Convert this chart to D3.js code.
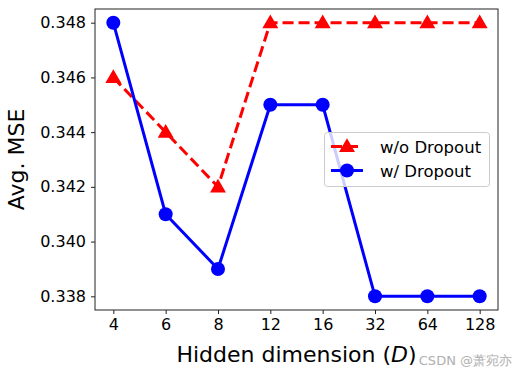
<!DOCTYPE html>
<html><head><meta charset="utf-8">
<script src="https://cdn.jsdelivr.net/npm/d3@7"></script>
<style>body{margin:0;background:#fff}svg{display:block}text{font-family:"DejaVu Sans",sans-serif}</style>
</head><body><svg id="c" width="519" height="379"></svg>
<script>
const categories = ["4","6","8","12","16","32","64","128"];
const woDropout = [0.346,0.344,0.342,0.348,0.348,0.348,0.348,0.348];
const wDropout = [0.348,0.341,0.339,0.345,0.345,0.338,0.338,0.338];
const yTicks = [0.338,0.340,0.342,0.344,0.346,0.348];
const seriesNames = ["w/o Dropout","w/ Dropout"];

const svg = d3.select("#c");
const L=95,R=498,T=9,B=310;
const x = d3.scalePoint().domain(categories).range([L,R]).padding(0.35);
const y = d3.scaleLinear().domain([0.3375,0.3485]).range([B,T]);

const xa = svg.append("g").attr("transform",`translate(0,${B})`)
  .call(d3.axisBottom(x).tickSize(4).tickPadding(5));
const ya = svg.append("g").attr("transform",`translate(${L},0)`)
  .call(d3.axisLeft(y).tickValues(yTicks).tickFormat(d3.format(".3f")).tickSize(4).tickPadding(5));
[xa,ya].forEach(a=>{a.select(".domain").remove();a.selectAll("text").attr("font-size",16).attr("fill","#000").attr("font-family","DejaVu Sans");a.selectAll("line").attr("stroke","#222");});

svg.append("rect").attr("x",L).attr("y",T).attr("width",R-L).attr("height",B-T)
  .attr("fill","none").attr("stroke","#222").attr("stroke-width",1);

const line = d3.line().x((d,i)=>x(categories[i])).y(d=>y(d));
const tri = d3.symbol().type(d3.symbolTriangle).size(110);
svg.append("path").datum(woDropout).attr("d",line).attr("fill","none")
  .attr("stroke","#ff0000").attr("stroke-width",3).attr("stroke-dasharray","11,5");
svg.selectAll(".tri").data(woDropout).join("path").attr("class","tri")
  .attr("transform",(d,i)=>`translate(${x(categories[i])},${y(d)+1})`).attr("d",tri).attr("fill","#ff0000");
svg.append("path").datum(wDropout).attr("d",line).attr("fill","none")
  .attr("stroke","#0000ff").attr("stroke-width",3);
svg.selectAll(".cir").data(wDropout).join("circle").attr("class","cir")
  .attr("cx",(d,i)=>x(categories[i])).attr("cy",d=>y(d)).attr("r",7).attr("fill","#0000ff");

// legend
const lg = svg.append("g");
lg.append("rect").attr("x",324.5).attr("y",132.5).attr("width",165).attr("height",54).attr("rx",3)
  .attr("fill","#fff").attr("fill-opacity",0.8).attr("stroke","#cccccc");
[0,1].forEach(k=>{
  const cy = 146.5 + k*24;
  lg.append("line").attr("x1",331).attr("x2",363).attr("y1",cy).attr("y2",cy)
    .attr("stroke",k?"#0000ff":"#ff0000").attr("stroke-width",3).attr("stroke-dasharray",k?null:"11,5");
  if(k) lg.append("circle").attr("cx",347).attr("cy",cy).attr("r",7).attr("fill","#0000ff");
  else lg.append("path").attr("d",tri).attr("transform",`translate(347,${cy+1})`).attr("fill","#ff0000");
  lg.append("text").attr("x",380).attr("y",cy+6).attr("font-size",16.5).text(seriesNames[k]);
});

svg.append("text").attr("x",(L+R)/2).attr("y",362).attr("text-anchor","middle").attr("font-size",22)
  .html('Hidden dimension (<tspan font-style="italic">D</tspan>)');
svg.append("text").attr("transform",`translate(24,${(T+B)/2}) rotate(-90)`).attr("text-anchor","middle")
  .attr("font-size",22).text("Avg. MSE");
svg.append("text").attr("x",512).attr("y",365).attr("text-anchor","end").attr("font-size",13)
  .attr("fill","#b0b0b0").text("CSDN @萧宛亦");
</script></body></html>
